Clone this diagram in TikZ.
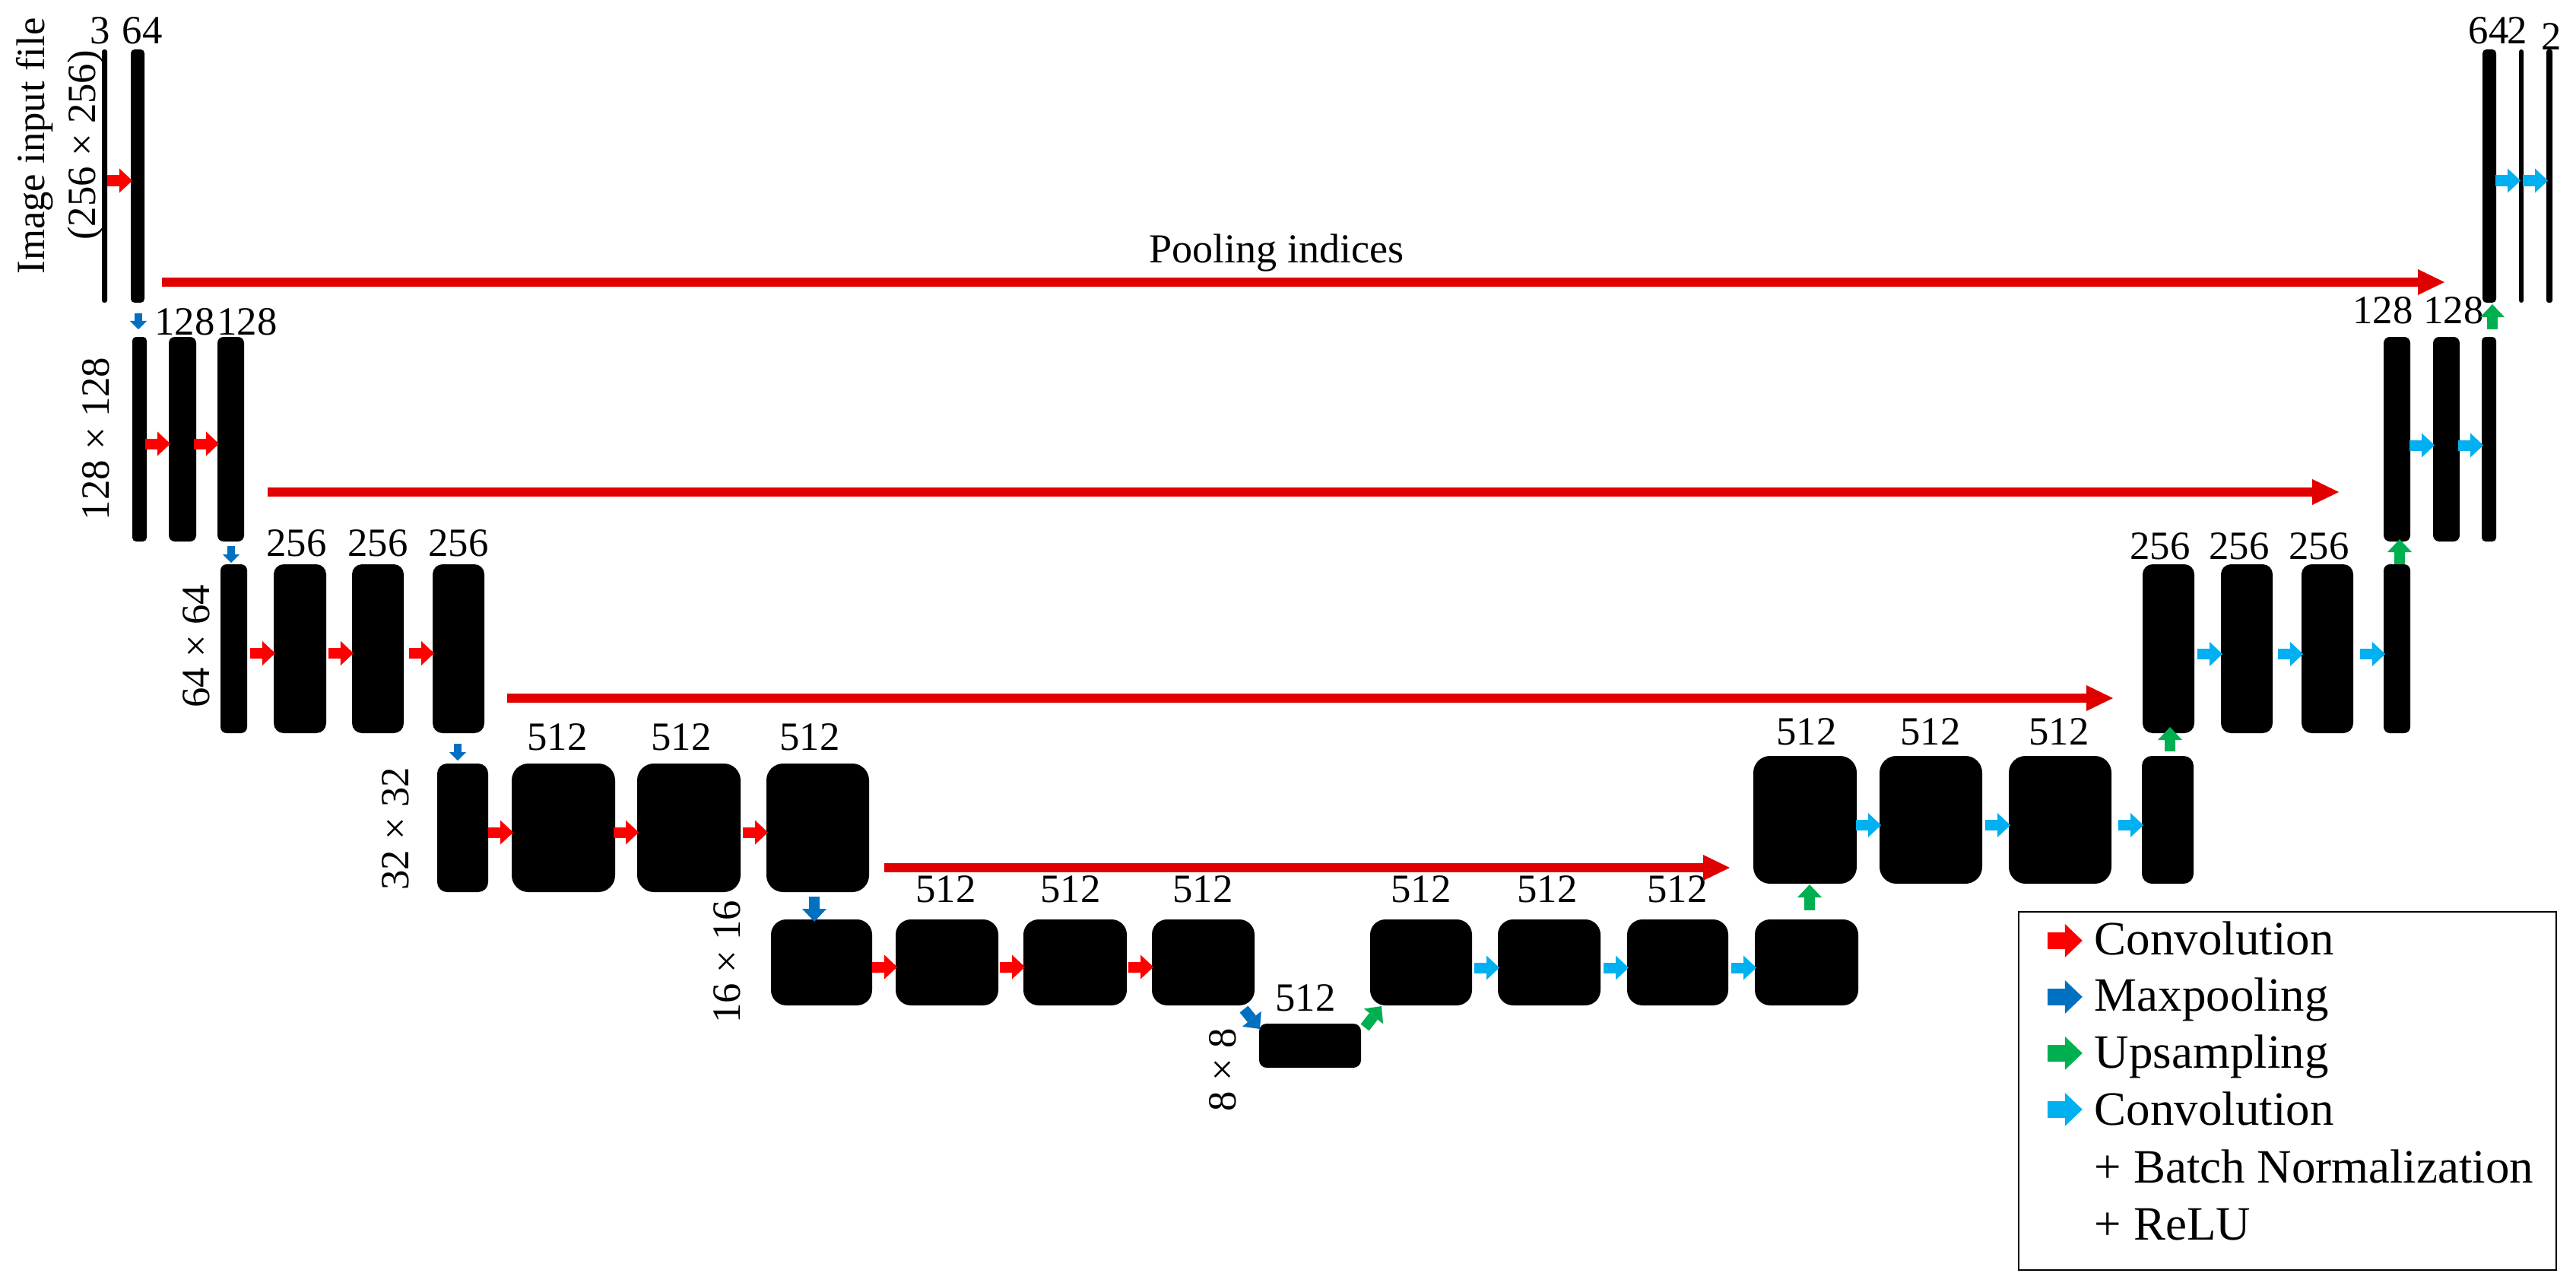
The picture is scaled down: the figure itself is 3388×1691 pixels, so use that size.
\documentclass[tikz,border=0pt]{standalone}
\usepackage{fontspec}
\setmainfont{Liberation Serif}
\usetikzlibrary{arrows.meta,calc}
\definecolor{convred}{RGB}{255,0,0}
\definecolor{skipred}{RGB}{224,0,0}
\definecolor{poolblue}{RGB}{0,112,192}
\definecolor{upgreen}{RGB}{0,176,80}
\definecolor{bncyan}{RGB}{0,176,240}
\newcommand\lblfont{\fontsize{15pt}{18pt}\selectfont}
\newcommand\poolfont{\fontsize{15.4pt}{18pt}\selectfont}
\newcommand\legfont{\fontsize{17.9pt}{21pt}\selectfont}
% name, x1, x2, y1, y2, corner radius
\newcommand\layerbar[6]{\node[barbox, rounded corners=#6, minimum width={(#3-#2)*0.01cm}, minimum height={(#5-#4)*0.01cm}] (#1) at ({(#2+#3)/2},{(#4+#5)/2}) {};}
% style, from node, to node, vertical offset
\newcommand\hconv[4]{\draw[#1] ($(#3.west)!0.31cm!(#2.east)+(0,#4)$) -- ($(#3.west)+(2,#4)$);}
\tikzset{
  barbox/.style={rectangle, fill=black, draw=none, inner sep=0pt, outer sep=0pt},
  num/.style={font=\lblfont, inner sep=0pt, outer sep=0pt},
  legtext/.style={font=\legfont, inner sep=0pt, outer sep=0pt, anchor=base west},
  convR/.style={draw=convred, line width=0.14cm, -{Triangle[width=0.32cm,length=0.17cm,line width=0pt]}},
  convC/.style={draw=bncyan, line width=0.14cm, -{Triangle[width=0.32cm,length=0.17cm,line width=0pt]}},
  poolS/.style={draw=poolblue, line width=0.10cm, -{Triangle[width=0.22cm,length=0.11cm,line width=0pt]}},
  poolB/.style={draw=poolblue, line width=0.14cm, -{Triangle[width=0.32cm,length=0.17cm,line width=0pt]}},
  upG/.style={draw=upgreen, line width=0.14cm, -{Triangle[width=0.32cm,length=0.17cm,line width=0pt]}},
  skipA/.style={draw=skipred, line width=0.12cm, -{Triangle[width=0.34cm,length=0.35cm,line width=0pt]}},
  legA/.style={line width=0.22cm, -{Triangle[width=0.44cm,length=0.23cm,line width=0pt]}},
}
\begin{document}
\begin{tikzpicture}[x=0.01cm, y=-0.01cm]
\fill[white] (0,0) rectangle (3388,1691);
\useasboundingbox (0,0) rectangle (3388,1691);

% ---------------- encoder bars ----------------
\layerbar{e1a}{134}{141}{65}{398}{0.03cm}
\layerbar{e1b}{172}{190}{65}{398}{0.05cm}
\layerbar{e2a}{174}{193}{443}{712}{0.05cm}
\layerbar{e2b}{222}{258}{443}{712}{0.08cm}
\layerbar{e2c}{286}{321}{443}{712}{0.08cm}
\layerbar{e3a}{290}{325}{742}{964}{0.08cm}
\layerbar{e3b}{360}{429}{742}{964}{0.13cm}
\layerbar{e3c}{463}{531}{742}{964}{0.13cm}
\layerbar{e3d}{569}{637}{742}{964}{0.13cm}
\layerbar{e4a}{575}{642}{1004}{1173}{0.13cm}
\layerbar{e4b}{673}{809}{1004}{1173}{0.22cm}
\layerbar{e4c}{838}{974}{1004}{1173}{0.22cm}
\layerbar{e4d}{1008}{1143}{1004}{1173}{0.22cm}
\layerbar{e5a}{1014}{1147}{1209}{1322}{0.2cm}
\layerbar{e5b}{1178}{1313}{1209}{1322}{0.2cm}
\layerbar{e5c}{1346}{1482}{1209}{1322}{0.2cm}
\layerbar{e5d}{1515}{1650}{1209}{1322}{0.2cm}
\layerbar{mid}{1656}{1790}{1346}{1404}{0.1cm}
% ---------------- decoder bars ----------------
\layerbar{d5a}{1802}{1936}{1209}{1322}{0.2cm}
\layerbar{d5b}{1970}{2105}{1209}{1322}{0.2cm}
\layerbar{d5c}{2140}{2273}{1209}{1322}{0.2cm}
\layerbar{d5d}{2308}{2444}{1209}{1322}{0.2cm}
\layerbar{d4a}{2306}{2442}{994}{1162}{0.22cm}
\layerbar{d4b}{2472}{2607}{994}{1162}{0.22cm}
\layerbar{d4c}{2642}{2777}{994}{1162}{0.22cm}
\layerbar{d4d}{2817}{2885}{994}{1162}{0.13cm}
\layerbar{d3a}{2818}{2886}{742}{964}{0.13cm}
\layerbar{d3b}{2921}{2989}{742}{964}{0.13cm}
\layerbar{d3c}{3027}{3095}{742}{964}{0.13cm}
\layerbar{d3d}{3135}{3170}{742}{964}{0.08cm}
\layerbar{d2a}{3135}{3170}{443}{712}{0.08cm}
\layerbar{d2b}{3200}{3235}{443}{712}{0.08cm}
\layerbar{d2c}{3264}{3283}{443}{712}{0.05cm}
\layerbar{d1a}{3265}{3283}{65}{398}{0.05cm}
\layerbar{d1b}{3313}{3319}{65}{398}{0.03cm}
\layerbar{d1c}{3349}{3357}{65}{398}{0.03cm}

% ---------------- channel labels ----------------
\node[num] (t1a) at (132,40) {3};
\node[num] (t1b) at (187,40) {64};
\node[num] (t2b) at (243,423) {128};
\node[num] (t2c) at (325,423) {128};
\node[num] (t3b) at (390,714) {256};
\node[num] (t3c) at (497,714) {256};
\node[num] (t3d) at (603,714) {256};
\node[num] (t4b) at (733,969) {512};
\node[num] (t4c) at (896,969) {512};
\node[num] (t4d) at (1065,969) {512};
\node[num] (t5b) at (1244,1169) {512};
\node[num] (t5c) at (1408,1169) {512};
\node[num] (t5d) at (1582,1169) {512};
\node[num] (tmid) at (1717,1312) {512};
\node[num] (u5a) at (1869,1169) {512};
\node[num] (u5b) at (2035,1169) {512};
\node[num] (u5c) at (2206,1169) {512};
\node[num] (u4a) at (2376,962) {512};
\node[num] (u4b) at (2539,962) {512};
\node[num] (u4c) at (2708,962) {512};
\node[num] (u3a) at (2841,718) {256};
\node[num] (u3b) at (2945,718) {256};
\node[num] (u3c) at (3050,718) {256};
\node[num] (u2a) at (3134,408) {128};
\node[num] (u2b) at (3227,408) {128};
\node[num] (u1a) at (3273,40) {64};
\node[num] (u1b) at (3311,40) {2};
\node[num] (u1c) at (3356,48) {2};

% ---------------- size labels ----------------
\node[num, rotate=90, anchor=base] (s1a) at (58,192) {Image input file};
\node[num, rotate=90, anchor=base] (s1b) at (125,191) {(256 × 256)};
\node[num, rotate=90] (s2) at (126,577) {128 × 128};
\node[num, rotate=90] (s3) at (258,850) {64 × 64};
\node[num, rotate=90] (s4) at (520,1090) {32 × 32};
\node[num, rotate=90] (s5) at (956,1265) {16 × 16};
\node[num, rotate=90] (s6) at (1608,1407) {8 × 8};

% ---------------- skip connections ----------------
\draw[skipA] ($(e1b.south east)+(23,-27)$) -- ($(d1a.south west)+(-50,-27)$);
\draw[skipA] ($(e2c.east)+(31,69.5)$) -- ($(d2a.west)+(-59,69.5)$);
\draw[skipA] ($(e3d.east)+(30,65)$) -- ($(d3a.west)+(-39,65)$);
\draw[skipA] ($(e4d.east)+(20,52.5)$) -- ($(d4a.west)+(-31,63)$);
\node[font=\poolfont, inner sep=0pt, anchor=base] (pool) at (1679,345) {Pooling indices};

% ---------------- convolutions (encoder) ----------------
\hconv{convR}{e1a}{e1b}{6}
\hconv{convR}{e2a}{e2b}{6}
\hconv{convR}{e2b}{e2c}{6}
\hconv{convR}{e3a}{e3b}{6}
\hconv{convR}{e3b}{e3c}{6}
\hconv{convR}{e3c}{e3d}{6}
\hconv{convR}{e4a}{e4b}{6}
\hconv{convR}{e4b}{e4c}{6}
\hconv{convR}{e4c}{e4d}{6}
\hconv{convR}{e5a}{e5b}{6}
\hconv{convR}{e5b}{e5c}{6}
\hconv{convR}{e5c}{e5d}{6}
% ---------------- convolutions (decoder) ----------------
\hconv{convC}{d5a}{d5b}{7}
\hconv{convC}{d5b}{d5c}{7}
\hconv{convC}{d5c}{d5d}{7}
\hconv{convC}{d4a}{d4b}{7}
\hconv{convC}{d4b}{d4c}{7}
\hconv{convC}{d4c}{d4d}{7}
\hconv{convC}{d3a}{d3b}{7}
\hconv{convC}{d3b}{d3c}{7}
\hconv{convC}{d3c}{d3d}{7}
\hconv{convC}{d2a}{d2b}{8}
\hconv{convC}{d2b}{d2c}{8}
\hconv{convC}{d1a}{d1b}{6}
\hconv{convC}{d1b}{d1c}{6}

% ---------------- max pooling ----------------
\draw[poolS] ($(e1b.south)+(1,14)$) -- ($(e2a.north)+(-1.5,-10)$);
\draw[poolS] ($(e2c.south)+(0.5,6)$) -- ($(e3a.north)+(-3.5,-2)$);
\draw[poolS] ($(e3d.south)+(-1,14)$) -- ($(e4a.north)+(-6.5,-4)$);
\draw[poolB] ($(e4d.south)+(-4.5,6)$) -- ($(e5a.north)+(-9.5,3)$);
\draw[poolB] ($(e5d.south east)+(-14,5)$) -- ($(mid.north west)+(1,7)$);

% ---------------- upsampling ----------------
\draw[upG] ($(mid.north east)+(5,5)$) -- ($(d5a.south west)+(15,1)$);
\draw[upG] ($(d5d.north)+(4,-12)$) -- ($(d4a.south)+(6,1)$);
\draw[upG] ($(d4d.north)+(3,-6)$) -- ($(d3a.south)+(2,-8)$);
\draw[upG] ($(d3d.north)+(3.5,0)$) -- ($(d2a.south)+(3.5,-3)$);
\draw[upG] ($(d2c.north)+(4.5,-10)$) -- ($(d1a.south)+(4,2)$);

% ---------------- legend ----------------
\node[draw=black, line width=0.02cm, minimum width=7.07cm, minimum height=4.71cm, inner sep=0pt, outer sep=0pt] (legend) at (3008.5,1434.5) {};
\draw[legA, draw=convred] ($(legend.north west)+(38,38)$) coordinate (la1) -- ($(la1)+(46,0)$);
\draw[legA, draw=poolblue] ($(legend.north west)+(38,112)$) coordinate (la2) -- ($(la2)+(46,0)$);
\draw[legA, draw=upgreen] ($(legend.north west)+(38,186)$) coordinate (la3) -- ($(la3)+(46,0)$);
\draw[legA, draw=bncyan] ($(legend.north west)+(38,260)$) coordinate (la4) -- ($(la4)+(46,0)$);
\node[legtext] (lt1) at ($(legend.north west)+(100,57)$) {Convolution};
\node[legtext] (lt2) at ($(legend.north west)+(100,131)$) {Maxpooling};
\node[legtext] (lt3) at ($(legend.north west)+(100,206)$) {Upsampling};
\node[legtext] (lt4) at ($(legend.north west)+(100,281)$) {Convolution};
\node[legtext] (lt5) at ($(legend.north west)+(100,357)$) {+ Batch Normalization};
\node[legtext] (lt6) at ($(legend.north west)+(100,432)$) {+ ReLU};
\end{tikzpicture}
\end{document}
